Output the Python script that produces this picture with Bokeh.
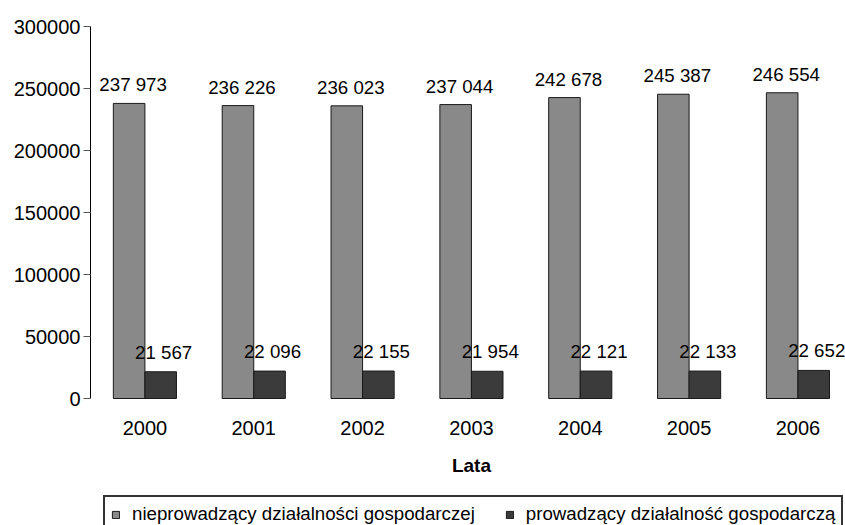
from bokeh.plotting import figure
from bokeh.models import (ColumnDataSource, Range1d, FixedTicker, NumeralTickFormatter,
                          Legend, LegendItem, LabelSet, Label)
from bokeh.transform import dodge
from bokeh.core.properties import value
from bokeh.embed import file_html
from bokeh.resources import INLINE

years = ["2000", "2001", "2002", "2003", "2004", "2005", "2006"]
niepro = [237973, 236226, 236023, 237044, 242678, 245387, 246554]
pro = [21567, 22096, 22155, 21954, 22121, 22133, 22652]
series_names = ["nieprowadzący działalności gospodarczej", "prowadzący działalność gospodarczą"]
y_ticks = [0, 50000, 100000, 150000, 200000, 250000, 300000]
x_title = "Lata"

def fmt(v):
    return f"{v:,}".replace(",", " ")

idx = list(range(len(years)))
src = ColumnDataSource(dict(
    x=idx, niepro=niepro, pro=pro, zero=[0] * len(years), year=years,
    niepro_lbl=[fmt(v) for v in niepro],
    pro_lbl=[fmt(v) for v in pro],
))

FONT = "Liberation Sans"
W, H = 845, 525
TOP, ZERO = 26, 398          # pixel rows of 300000 and 0
y_max = 300000
y_min = -y_max * (H - ZERO) / (ZERO - TOP)   # let the frame run to the bottom edge

p = figure(width=W, height=H, output_backend="svg", toolbar_location=None,
           x_range=Range1d(-0.5, 6.437), y_range=Range1d(y_min, y_max),
           x_axis_location=None,
           min_border_left=90, min_border_right=0, min_border_top=TOP, min_border_bottom=0)
p.outline_line_color = None
p.xgrid.visible = False
p.ygrid.visible = False
p.background_fill_color = "white"
p.border_fill_color = "white"

w = 0.29
r1 = p.vbar(x=dodge("x", -w / 2, range=p.x_range), top="niepro", width=w, source=src,
            fill_color="#898989", line_color="#1a1a1a", line_width=1)
r2 = p.vbar(x=dodge("x", w / 2, range=p.x_range), top="pro", width=w, source=src,
            fill_color="#3b3b3b", line_color="#1a1a1a", line_width=1)

l1 = LabelSet(x=dodge("x", -w / 2, range=p.x_range), y="niepro", text="niepro_lbl", source=src,
              x_offset=4, y_offset=12, text_align="center", text_baseline="alphabetic",
              text_font=value(FONT), text_font_size="18.7px", text_color="black")
l2 = LabelSet(x=dodge("x", w / 2, range=p.x_range), y="pro", text="pro_lbl", source=src,
              x_offset=3, y_offset=13, text_align="center", text_baseline="alphabetic",
              text_font=value(FONT), text_font_size="18.7px", text_color="black")
p.add_layout(l1)
p.add_layout(l2)

# category labels under the bars
lx = LabelSet(x="x", y="zero", text="year", source=src, y_offset=-22,
              text_align="center", text_baseline="top",
              text_font=value(FONT), text_font_size="20px", text_color="black")
p.add_layout(lx)
p.add_layout(Label(x=(len(years) - 1) / 2, y=0, text=x_title, y_offset=-67,
                   text_align="center", text_baseline="middle",
                   text_font=FONT, text_font_size="19px", text_font_style="bold",
                   text_color="black"))

# y axis
p.yaxis.bounds = (0, y_max)
p.yaxis.ticker = FixedTicker(ticks=y_ticks)
p.yaxis.formatter = NumeralTickFormatter(format="0")
p.yaxis.axis_line_color = "black"
p.yaxis.major_tick_line_color = "#555555"
p.yaxis.major_tick_out = 7
p.yaxis.major_tick_in = 0
p.yaxis.minor_tick_line_color = None
p.yaxis.major_label_standoff = 3
p.yaxis.major_label_text_font = FONT
p.yaxis.major_label_text_font_size = "20px"
p.yaxis.major_label_text_color = "black"

legend = Legend(items=[LegendItem(label=series_names[0], renderers=[r1]),
                       LegendItem(label=series_names[1], renderers=[r2])],
                orientation="horizontal", location=(13, -8),
                label_text_font=FONT, label_text_font_size="18.7px", label_text_color="black",
                glyph_width=9, glyph_height=9, label_standoff=12, spacing=30,
                padding=6, margin=0,
                border_line_color="#333333", border_line_width=2, border_line_alpha=1,
                background_fill_color="white", background_fill_alpha=1)
p.add_layout(legend, "center")

open("out.html", "w").write(file_html(p, INLINE))
